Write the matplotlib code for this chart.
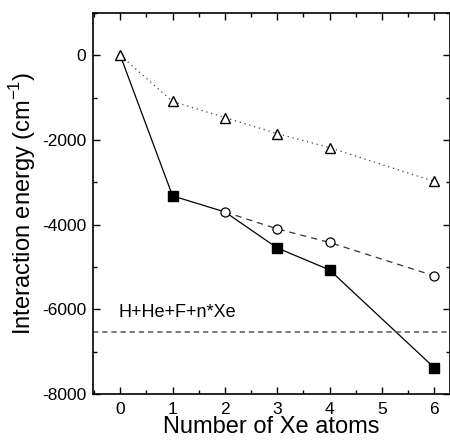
import matplotlib
matplotlib.use("Agg")
import matplotlib.pyplot as plt
from matplotlib.ticker import MultipleLocator

plt.rcParams['font.family'] = ['Liberation Sans', 'DejaVu Sans']
plt.rcParams['axes.unicode_minus'] = False
plt.rcParams['mathtext.fontset'] = 'custom'
plt.rcParams['mathtext.rm'] = 'Liberation Sans'

sq_x = [0, 1, 2, 3, 4, 6]
sq_y = [0, -3320, -3700, -4550, -5070, -7380]
ci_x = [2, 3, 4, 6]
ci_y = [-3700, -4100, -4420, -5210]
tr_x = [0, 1, 2, 3, 4, 6]
tr_y = [0, -1090, -1470, -1850, -2180, -2980]
threshold = -6530
threshold_label = "H+He+F+n*Xe"
xticks = [0, 1, 2, 3, 4, 5, 6]
yticks = [-8000, -6000, -4000, -2000, 0]

fig = plt.figure(figsize=(4.5, 4.42), dpi=100)
ax = fig.add_axes([0.2067, 0.1086, 0.7933, 0.862])

ax.plot(sq_x, sq_y, linestyle='-', color='black', lw=0.9,
        marker='s', ms=6.5, mfc='black', mec='black', markevery=[1, 3, 4, 5])
ax.plot(tr_x, tr_y, linestyle=(0, (1, 3)), color='#444444', lw=0.9,
        marker='^', ms=7, mfc='white', mec='black', mew=1.0)
ax.plot(ci_x, ci_y, linestyle=(0, (5, 4)), color='#333333', lw=0.9,
        marker='o', ms=6.5, mfc='white', mec='black', mew=0.9)
ax.axhline(threshold, linestyle=(0, (3.5, 2.5)), color='#555555', lw=1.1)
ax.text(-0.04, threshold + 250, threshold_label, fontsize=13, ha='left', va='bottom')

ax.set_xlim(-0.52, 6.3)
ax.set_ylim(-8000, 1000)
ax.set_xticks(xticks)
ax.set_yticks(yticks)
ax.xaxis.set_minor_locator(MultipleLocator(0.5))
ax.yaxis.set_minor_locator(MultipleLocator(1000))
ax.tick_params(which='both', direction='in', top=True, right=True, labelsize=12.5, width=1)
ax.tick_params(which='major', length=5)
ax.tick_params(which='minor', length=3)
ax.tick_params(axis='x', pad=6)
ax.tick_params(axis='y', pad=5)
ax.set_xlabel("Number of Xe atoms", fontsize=17, labelpad=-1)
ax.set_ylabel("Interaction energy (cm$^{\\mathrm{-1}}$)", fontsize=17, labelpad=3)
for s in ax.spines.values():
    s.set_linewidth(1.2)

fig.savefig("out.png", dpi=100)
